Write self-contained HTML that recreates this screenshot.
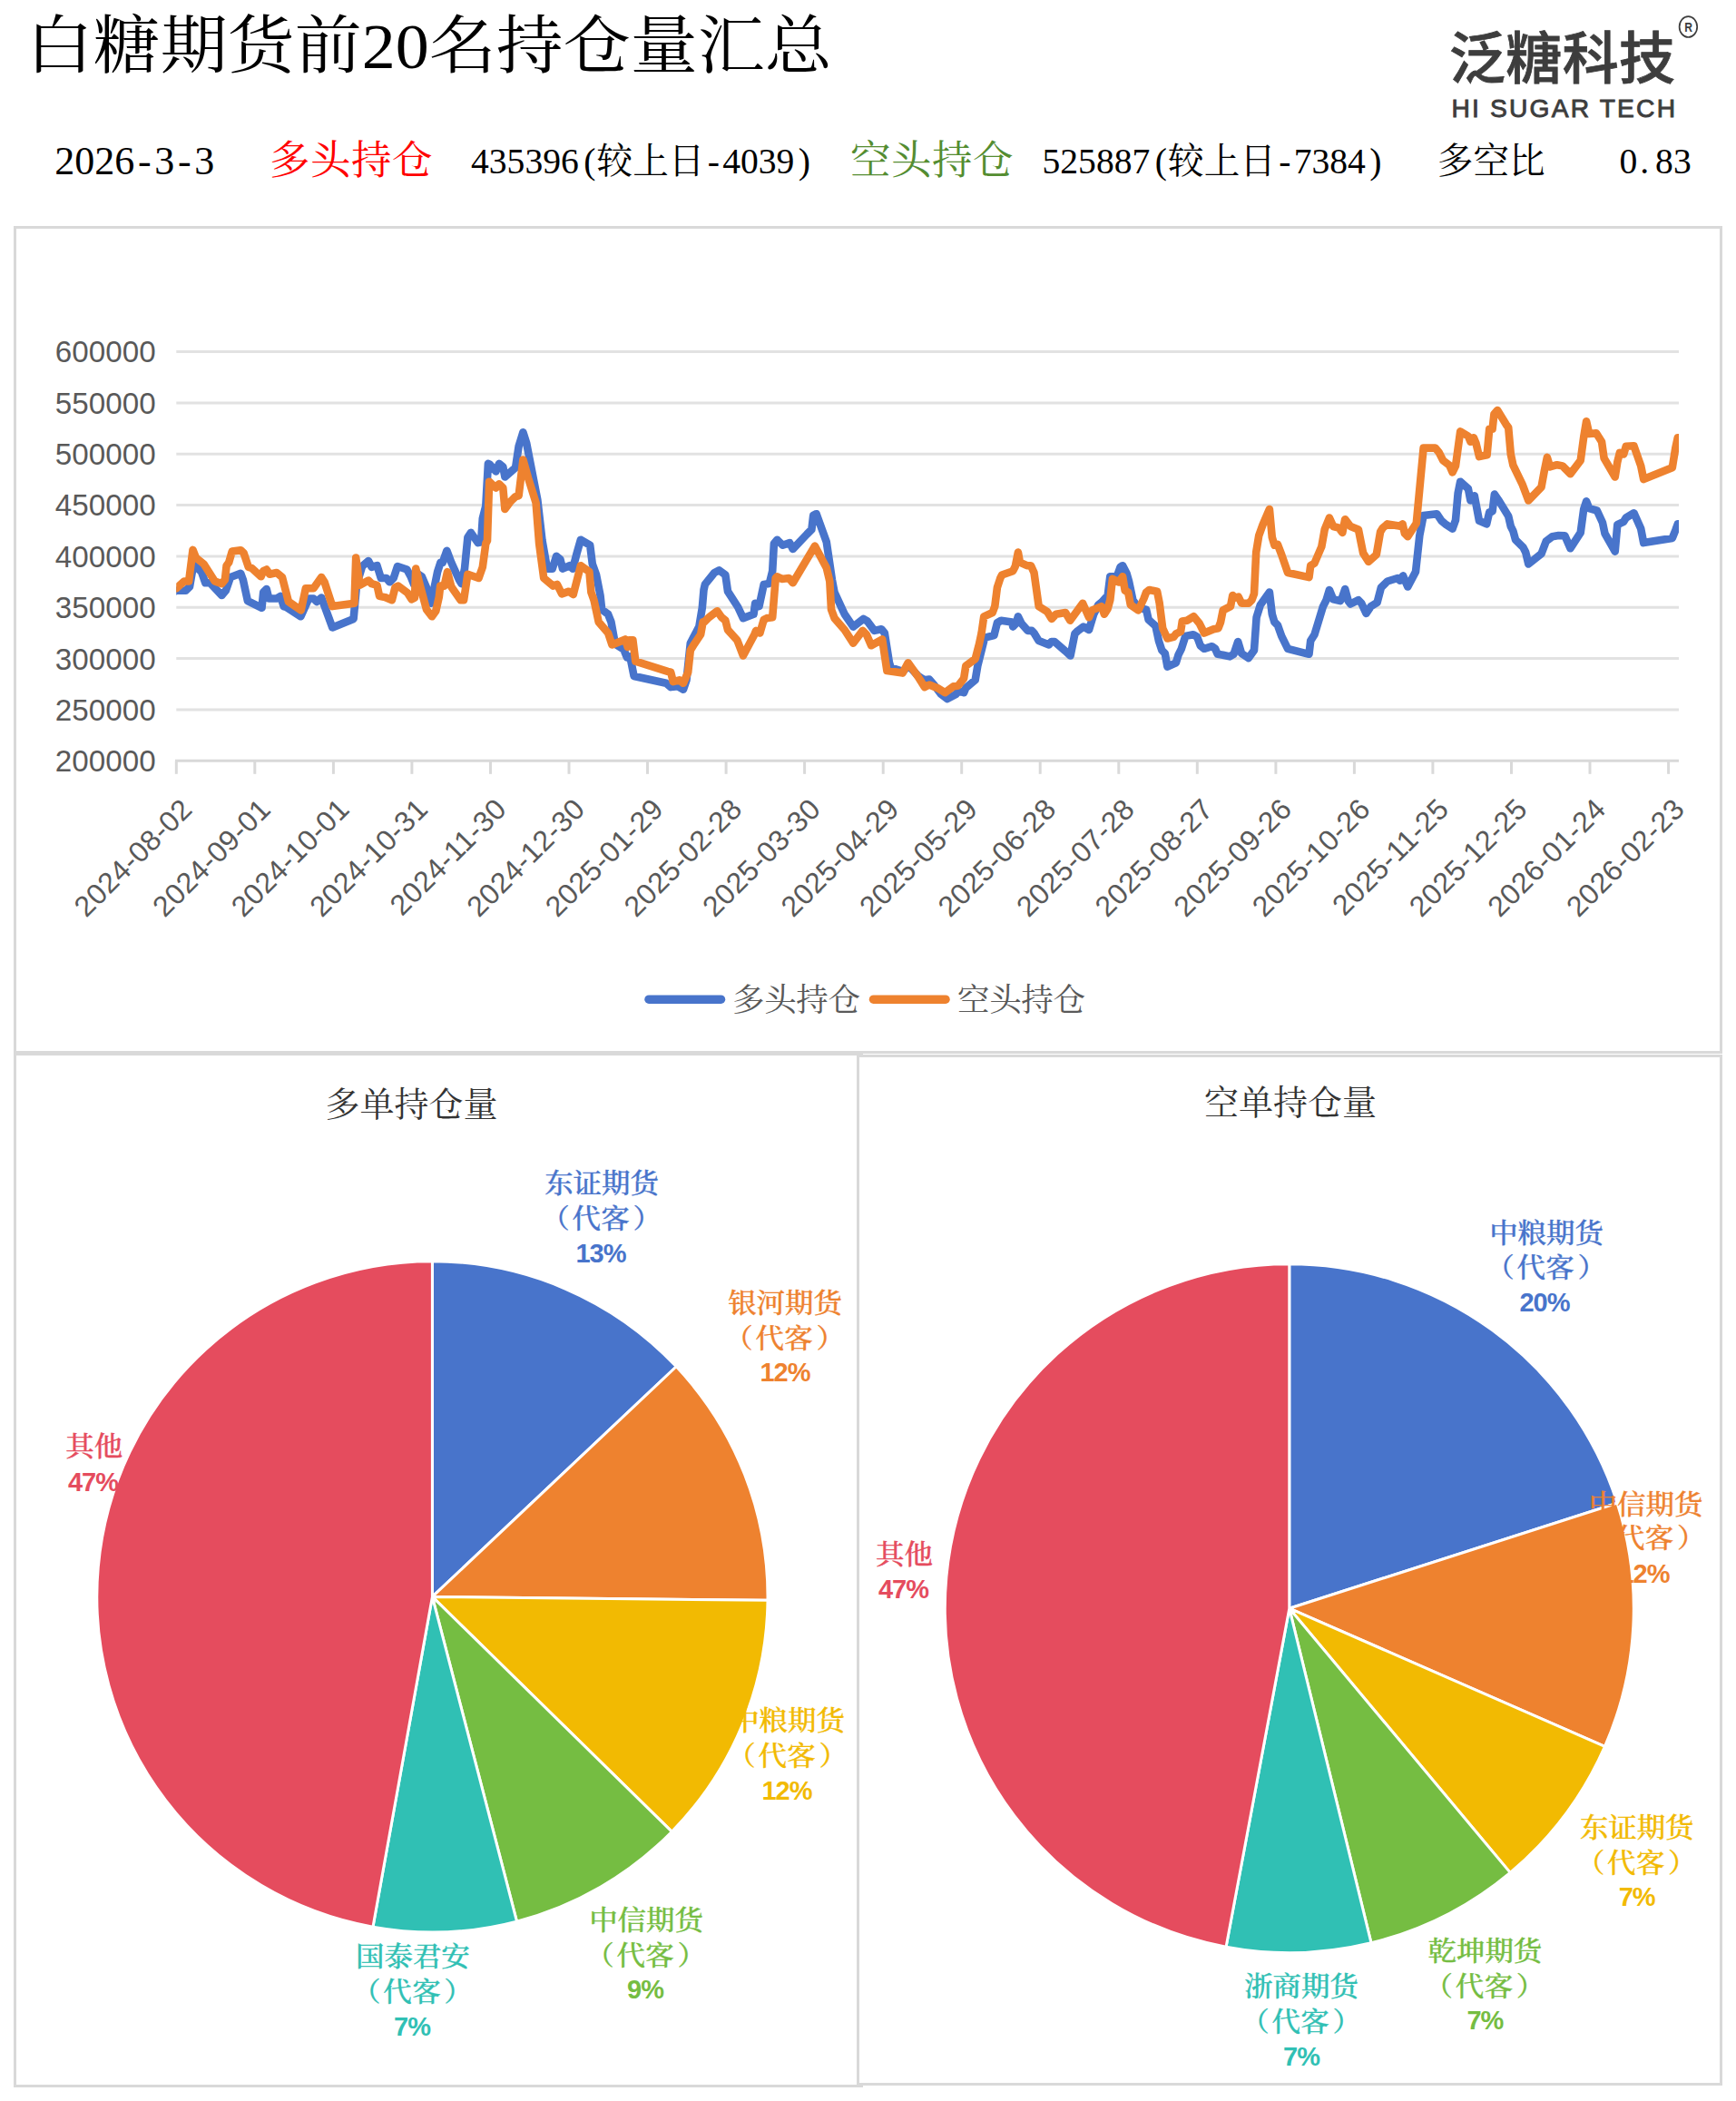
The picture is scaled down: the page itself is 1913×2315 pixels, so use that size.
<!DOCTYPE html>
<html lang="zh-CN"><head><meta charset="utf-8"><title>白糖期货前20名持仓量汇总</title>
<style>
html,body{margin:0;padding:0;background:#fff;}
body{width:1913px;height:2315px;overflow:hidden;}
svg{display:block;}
.ser{font-family:"Liberation Serif","Noto Serif CJK SC",serif;}
.san{font-family:"Liberation Sans","Noto Sans CJK SC",sans-serif;}
.ax{font-family:"Liberation Sans","Noto Sans CJK SC",sans-serif;font-size:32px;letter-spacing:0.4px;fill:#595959;}
.pl{font-family:"Liberation Serif","Noto Serif CJK SC",serif;font-weight:500;font-size:31.5px;}
.pp{font-family:"Liberation Sans","Noto Sans CJK SC",sans-serif;font-weight:700;font-size:29px;letter-spacing:-1px;text-anchor:middle;}
.pt{font-family:"Liberation Serif","Noto Serif CJK SC",serif;font-size:38px;fill:#333;text-anchor:middle;}
</style></head><body>
<svg width="1913" height="2315" viewBox="0 0 1913 2315">
<rect width="1913" height="2315" fill="#fff"/>

<text class="ser" x="37" y="76" font-size="73" font-weight="400" fill="#000" textLength="876" lengthAdjust="spacing" transform="translate(-8.86,2.03) scale(1.0137,0.962)">白糖期货前20名持仓量汇总</text>
<text class="ser" x="60.3 82.3 104.3 126.3 152.0 170.3 196.0 214.3" y="192" font-size="44" fill="#000">2026-3-3</text>
<text class="ser" x="297.0 342.0 387.0 432.0" y="192" font-size="44.5" fill="#ff0000">多头持仓</text>
<text class="ser" x="519.0 538.8 558.6 578.4 598.2 618.0 643.3 657.6 697.2 736.8 779.7 796.2 816.0 835.8 855.6 879.7" y="191" font-size="39.6" fill="#000">435396(较上日-4039)</text>
<text class="ser" x="937.1 982.1 1027.1 1072.1" y="192" font-size="44.5" fill="#548d31">空头持仓</text>
<text class="ser" x="1148.5 1168.3 1188.1 1207.9 1227.7 1247.5 1272.8 1287.1 1326.7 1366.3 1409.2 1425.7 1445.5 1465.3 1485.1 1509.2" y="191" font-size="39.6" fill="#000">525887(较上日-7384)</text>
<text class="ser" x="1583.8 1623.4 1663.0" y="191" font-size="39.6" fill="#000">多空比</text>
<text class="ser" x="1784.5 1807.3 1824.1 1843.9" y="191" font-size="39.6" fill="#000">0.83</text>
<text x="1597" y="87" font-family='"Noto Sans CJK SC","Liberation Sans",sans-serif' font-weight="500" font-size="62" fill="#3d3d3d" stroke="#3d3d3d" stroke-width="0.8" textLength="249" lengthAdjust="spacing">泛糖科技</text>
<text class="san" x="1599.5" y="128.6" font-weight="400" font-size="28.2" fill="#3d3d3d" stroke="#3d3d3d" stroke-width="0.9" textLength="246.5" lengthAdjust="spacing">HI SUGAR TECH</text>
<ellipse cx="1860.4" cy="29.6" rx="9.8" ry="11.4" fill="none" stroke="#3d3d3d" stroke-width="1.7"/>
<text class="san" x="0" y="0" font-weight="700" font-size="15.5" fill="#3d3d3d" text-anchor="middle" transform="translate(1860.6,35.2) scale(0.78,1)">R</text>
<rect x="16.5" y="250.5" width="1880.0" height="909.0" fill="#fff" stroke="#d9d9d9" stroke-width="3"/>
<rect x="16.5" y="1161.5" width="933.0" height="1137.0" fill="#fff" stroke="#d9d9d9" stroke-width="3"/>
<rect x="945.5" y="1163.5" width="951.0" height="1133.0" fill="#fff" stroke="#d9d9d9" stroke-width="3"/>
<line x1="194.3" y1="387.5" x2="1850" y2="387.5" stroke="#e2e2e2" stroke-width="3"/>
<text class="ax" x="171.6" y="399.4" text-anchor="end" style="font-size:33.2px;letter-spacing:0">600000</text>
<line x1="194.3" y1="443.9" x2="1850" y2="443.9" stroke="#e2e2e2" stroke-width="3"/>
<text class="ax" x="171.6" y="455.8" text-anchor="end" style="font-size:33.2px;letter-spacing:0">550000</text>
<line x1="194.3" y1="500.2" x2="1850" y2="500.2" stroke="#e2e2e2" stroke-width="3"/>
<text class="ax" x="171.6" y="512.1" text-anchor="end" style="font-size:33.2px;letter-spacing:0">500000</text>
<line x1="194.3" y1="556.5" x2="1850" y2="556.5" stroke="#e2e2e2" stroke-width="3"/>
<text class="ax" x="171.6" y="568.4" text-anchor="end" style="font-size:33.2px;letter-spacing:0">450000</text>
<line x1="194.3" y1="612.9" x2="1850" y2="612.9" stroke="#e2e2e2" stroke-width="3"/>
<text class="ax" x="171.6" y="624.8" text-anchor="end" style="font-size:33.2px;letter-spacing:0">400000</text>
<line x1="194.3" y1="669.2" x2="1850" y2="669.2" stroke="#e2e2e2" stroke-width="3"/>
<text class="ax" x="171.6" y="681.1" text-anchor="end" style="font-size:33.2px;letter-spacing:0">350000</text>
<line x1="194.3" y1="725.6" x2="1850" y2="725.6" stroke="#e2e2e2" stroke-width="3"/>
<text class="ax" x="171.6" y="737.5" text-anchor="end" style="font-size:33.2px;letter-spacing:0">300000</text>
<line x1="194.3" y1="782.0" x2="1850" y2="782.0" stroke="#e2e2e2" stroke-width="3"/>
<text class="ax" x="171.6" y="793.9" text-anchor="end" style="font-size:33.2px;letter-spacing:0">250000</text>
<text class="ax" x="171.6" y="850.2" text-anchor="end" style="font-size:33.2px;letter-spacing:0">200000</text>
<line x1="193.0" y1="838.3" x2="1850" y2="838.3" stroke="#d9d9d9" stroke-width="3"/>
<line x1="194.3" y1="838.3" x2="194.3" y2="852.8" stroke="#d9d9d9" stroke-width="3"/>
<text class="ax" x="213.7" y="893.5" text-anchor="end" transform="rotate(-45 213.7 893.5)">2024-08-02</text>
<line x1="280.8" y1="838.3" x2="280.8" y2="852.8" stroke="#d9d9d9" stroke-width="3"/>
<text class="ax" x="300.2" y="893.5" text-anchor="end" transform="rotate(-45 300.2 893.5)">2024-09-01</text>
<line x1="367.4" y1="838.3" x2="367.4" y2="852.8" stroke="#d9d9d9" stroke-width="3"/>
<text class="ax" x="386.8" y="893.5" text-anchor="end" transform="rotate(-45 386.8 893.5)">2024-10-01</text>
<line x1="453.9" y1="838.3" x2="453.9" y2="852.8" stroke="#d9d9d9" stroke-width="3"/>
<text class="ax" x="473.3" y="893.5" text-anchor="end" transform="rotate(-45 473.3 893.5)">2024-10-31</text>
<line x1="540.5" y1="838.3" x2="540.5" y2="852.8" stroke="#d9d9d9" stroke-width="3"/>
<text class="ax" x="559.9" y="893.5" text-anchor="end" transform="rotate(-45 559.9 893.5)">2024-11-30</text>
<line x1="627.0" y1="838.3" x2="627.0" y2="852.8" stroke="#d9d9d9" stroke-width="3"/>
<text class="ax" x="646.4" y="893.5" text-anchor="end" transform="rotate(-45 646.4 893.5)">2024-12-30</text>
<line x1="713.5" y1="838.3" x2="713.5" y2="852.8" stroke="#d9d9d9" stroke-width="3"/>
<text class="ax" x="732.9" y="893.5" text-anchor="end" transform="rotate(-45 732.9 893.5)">2025-01-29</text>
<line x1="800.1" y1="838.3" x2="800.1" y2="852.8" stroke="#d9d9d9" stroke-width="3"/>
<text class="ax" x="819.5" y="893.5" text-anchor="end" transform="rotate(-45 819.5 893.5)">2025-02-28</text>
<line x1="886.6" y1="838.3" x2="886.6" y2="852.8" stroke="#d9d9d9" stroke-width="3"/>
<text class="ax" x="906.0" y="893.5" text-anchor="end" transform="rotate(-45 906.0 893.5)">2025-03-30</text>
<line x1="973.2" y1="838.3" x2="973.2" y2="852.8" stroke="#d9d9d9" stroke-width="3"/>
<text class="ax" x="992.6" y="893.5" text-anchor="end" transform="rotate(-45 992.6 893.5)">2025-04-29</text>
<line x1="1059.7" y1="838.3" x2="1059.7" y2="852.8" stroke="#d9d9d9" stroke-width="3"/>
<text class="ax" x="1079.1" y="893.5" text-anchor="end" transform="rotate(-45 1079.1 893.5)">2025-05-29</text>
<line x1="1146.2" y1="838.3" x2="1146.2" y2="852.8" stroke="#d9d9d9" stroke-width="3"/>
<text class="ax" x="1165.6" y="893.5" text-anchor="end" transform="rotate(-45 1165.6 893.5)">2025-06-28</text>
<line x1="1232.8" y1="838.3" x2="1232.8" y2="852.8" stroke="#d9d9d9" stroke-width="3"/>
<text class="ax" x="1252.2" y="893.5" text-anchor="end" transform="rotate(-45 1252.2 893.5)">2025-07-28</text>
<line x1="1319.3" y1="838.3" x2="1319.3" y2="852.8" stroke="#d9d9d9" stroke-width="3"/>
<text class="ax" x="1338.7" y="893.5" text-anchor="end" transform="rotate(-45 1338.7 893.5)">2025-08-27</text>
<line x1="1405.9" y1="838.3" x2="1405.9" y2="852.8" stroke="#d9d9d9" stroke-width="3"/>
<text class="ax" x="1425.3" y="893.5" text-anchor="end" transform="rotate(-45 1425.3 893.5)">2025-09-26</text>
<line x1="1492.4" y1="838.3" x2="1492.4" y2="852.8" stroke="#d9d9d9" stroke-width="3"/>
<text class="ax" x="1511.8" y="893.5" text-anchor="end" transform="rotate(-45 1511.8 893.5)">2025-10-26</text>
<line x1="1578.9" y1="838.3" x2="1578.9" y2="852.8" stroke="#d9d9d9" stroke-width="3"/>
<text class="ax" x="1598.3" y="893.5" text-anchor="end" transform="rotate(-45 1598.3 893.5)">2025-11-25</text>
<line x1="1665.5" y1="838.3" x2="1665.5" y2="852.8" stroke="#d9d9d9" stroke-width="3"/>
<text class="ax" x="1684.9" y="893.5" text-anchor="end" transform="rotate(-45 1684.9 893.5)">2025-12-25</text>
<line x1="1752.0" y1="838.3" x2="1752.0" y2="852.8" stroke="#d9d9d9" stroke-width="3"/>
<text class="ax" x="1771.4" y="893.5" text-anchor="end" transform="rotate(-45 1771.4 893.5)">2026-01-24</text>
<line x1="1838.6" y1="838.3" x2="1838.6" y2="852.8" stroke="#d9d9d9" stroke-width="3"/>
<text class="ax" x="1858.0" y="893.5" text-anchor="end" transform="rotate(-45 1858.0 893.5)">2026-02-23</text>
<clipPath id="plot"><rect x="194.2" y="380" width="1655.8" height="470"/></clipPath>
<polyline clip-path="url(#plot)" points="190,652.8 194.3,650.8 204.7,650.8 209.0,646.5 213.3,621.5 222.0,630.1 226.3,642.2 231.5,642.2 244.4,656.0 248.8,650.8 253.9,636.1 265.2,631.8 267.8,638.7 272.9,662.1 288.5,669.8 290.2,652.6 293.7,649.1 296.3,659.5 304.9,659.5 309.2,656.9 312.7,668.1 315.3,669.0 331.4,679.3 340.3,659.5 345.5,659.5 349.0,662.9 354.2,658.6 366.3,691.4 389.6,681.9 393.1,643.9 399.1,624.0 406.0,618.0 409.5,624.9 415.5,623.2 419.8,637.0 425.9,637.0 429.3,641.3 433.7,637.0 438.0,624.0 448.4,627.5 452.7,635.3 456.1,643.9 459.6,631.8 464.8,635.3 470.0,647.4 475.1,664.7 482.1,630.1 485.5,619.7 487.8,619.7 492.4,606.8 497.3,619.7 505.9,638.7 508.5,643.1 512.0,626.6 515.4,592.1 518.9,586.9 526.7,598.1 530.1,597.3 531.8,571.3 535.3,557.5 537.9,510.9 539.6,511.7 546.5,519.5 550.0,510.9 554.3,514.3 556.4,525.5 568.1,515.2 571.6,491.8 576.4,476.3 580.2,488.4 592.3,550.6 597.5,595.5 603.0,626.6 608.7,626.6 613.1,612.8 617.4,616.3 620.0,626.6 627.8,623.2 631.2,626.6 635.5,610.2 639.9,594.7 650.2,600.7 652.8,621.5 657.1,633.5 661.5,656.0 663.2,671.6 670.1,676.8 673.5,685.4 677.9,709.6 687.4,715.6 690.8,724.3 694.3,723.4 698.6,745.0 734.0,752.8 739.2,757.1 747.0,756.2 753.0,759.7 756.5,749.3 760.8,708.7 770.3,690.6 773.8,669.8 775.5,650.0 776.9,643.9 787.3,631.0 792.5,628.4 799.4,633.5 802.0,651.7 813.2,669.0 818.9,681.1 830.5,676.8 832.2,664.7 836.5,668.1 841.7,643.9 847.8,643.1 851.2,629.2 852.9,599.0 856.4,594.7 862.5,600.7 870.2,598.1 873.7,605.0 889.2,588.6 894.4,583.4 896.2,567.9 899.6,566.2 910.8,597.3 916.9,638.7 919.5,652.6 930.7,676.8 940.2,690.6 951.5,681.9 955.8,684.5 963.5,694.9 971.3,693.2 974.8,697.5 980.0,730.3 981.7,735.5 994.7,739.8 1001.6,733.8 1011.9,745.0 1018.8,749.3 1024.0,748.5 1029.2,754.5 1037.0,764.9 1043.9,770.1 1053.4,764.9 1056.0,761.4 1062.1,763.2 1064.3,758.0 1074.7,749.3 1077.3,733.8 1082.5,713.0 1085.1,702.7 1095.4,700.1 1098.9,686.3 1103.2,683.7 1115.3,685.4 1116.2,690.6 1119.6,687.1 1121.9,679.3 1125.7,687.1 1132.6,694.9 1136.9,694.9 1139.5,697.5 1144.7,706.1 1155.9,710.4 1158.5,707.0 1162.0,707.0 1174.1,717.4 1179.6,722.5 1184.4,698.4 1187.9,694.9 1193.9,690.6 1200.0,694.0 1205.2,676.8 1210.3,666.4 1213.8,663.8 1220.7,656.0 1223.3,635.3 1231.1,634.4 1234.5,624.9 1237.1,623.2 1241.5,631.8 1244.0,640.5 1248.4,661.2 1254.4,669.8 1263.1,671.6 1265.6,682.8 1273.4,689.7 1276.9,706.1 1280.3,716.5 1283.8,720.0 1286.4,734.6 1295.9,730.3 1298.5,721.7 1301.9,714.8 1306.3,700.9 1314.9,699.2 1319.2,701.8 1322.7,711.3 1327.0,714.8 1335.6,712.2 1339.1,714.8 1341.7,720.8 1347.7,721.7 1355.2,723.4 1359.5,720.8 1364.2,707.0 1368.1,720.0 1375.9,725.1 1382.0,716.5 1384.6,680.2 1388.9,666.4 1398.9,652.6 1401.8,676.8 1404.4,685.4 1407.9,688.8 1412.2,700.9 1419.1,714.8 1442.5,720.8 1444.2,706.1 1448.5,699.2 1458.0,668.1 1461.5,661.2 1464.9,650.0 1469.2,660.3 1477.0,662.1 1479.3,657.7 1482.2,649.1 1485.7,662.1 1488.2,665.5 1496.9,661.2 1500.3,664.7 1505.5,675.9 1510.7,668.1 1517.6,663.8 1521.9,647.4 1528.9,640.5 1540.1,637.0 1542.7,639.6 1546.1,634.4 1548.7,640.5 1551.3,646.5 1560.0,630.1 1564.3,590.3 1568.6,567.9 1583.3,566.2 1588.5,573.9 1593.7,578.2 1600.6,582.6 1604.0,573.1 1606.6,543.7 1609.2,530.7 1617.9,538.5 1620.4,551.5 1624.8,546.3 1630.0,573.9 1638.2,577.4 1641.2,564.4 1644.6,563.6 1646.9,544.6 1651.0,550.6 1662.2,568.7 1664.8,580.0 1667.4,585.2 1670.0,594.7 1678.6,603.3 1681.2,608.5 1684.3,621.5 1698.5,610.2 1703.7,596.4 1710.6,591.2 1717.5,590.0 1724.4,590.3 1730.5,604.2 1741.7,586.9 1745.2,561.0 1748.1,552.3 1751.2,560.1 1759.9,562.7 1765.9,575.7 1768.5,587.8 1779.7,607.6 1782.3,578.2 1789.2,574.8 1791.8,570.5 1800.5,565.3 1808.2,582.6 1811.2,598.1 1842.8,592.9 1846.3,584.3 1848.8,577.4 1853,577.4" fill="none" stroke="#4874cb" stroke-width="8.6" stroke-linejoin="round" stroke-linecap="round"/>
<polyline clip-path="url(#plot)" points="190,650.2 194.3,648.2 203.0,640.5 208.1,640.5 212.5,605.9 215.9,614.5 224.6,621.5 236.7,640.5 244.4,643.1 247.9,638.7 249.6,623.2 252.2,619.7 255.7,607.6 265.2,606.2 268.6,609.4 273.8,624.9 277.3,625.8 287.6,635.3 290.2,629.2 293.7,627.5 297.1,632.7 304.9,631.0 311.0,636.1 317.9,662.9 331.7,672.4 336.9,648.2 345.5,648.2 354.2,636.1 357.6,641.3 366.3,668.1 390.5,664.7 392.2,614.5 396.5,644.8 406.0,639.6 409.5,643.1 415.5,644.8 418.1,656.9 424.2,658.1 431.9,661.2 435.4,647.4 438.8,645.6 449.2,653.4 453.5,660.3 457.0,658.6 458.2,626.6 463.0,645.6 470.0,671.6 476.0,679.3 480.3,673.3 483.8,657.7 485.2,645.6 489.5,645.6 493.0,630.1 497.3,646.5 507.6,661.2 511.1,661.2 515.4,632.7 527.5,637.0 531.8,624.9 535.3,599.0 537.0,595.5 539.1,530.7 546.5,537.6 550.0,533.3 554.3,537.6 556.4,561.0 562.9,552.3 568.1,547.1 571.6,546.3 576.4,506.5 582.0,526.4 590.6,554.1 594.1,599.0 599.2,637.0 609.6,645.6 613.9,643.9 619.1,654.3 626.9,651.7 631.7,655.1 639.9,623.2 649.4,630.1 651.4,652.6 654.5,661.2 659.7,685.4 670.1,697.5 674.4,710.4 689.1,704.4 691.7,713.0 693.4,705.3 697.4,705.3 700.3,728.6 735.8,739.8 739.2,740.7 741.8,751.1 748.7,749.3 753.0,752.8 758.2,740.7 760.8,716.5 765.1,709.6 772.1,699.2 774.6,685.4 776.0,685.4 781.2,680.2 790.4,673.3 795.1,680.2 799.4,683.7 802.0,694.0 812.3,705.3 818.9,722.5 831.3,699.2 833.1,694.9 837.4,697.5 841.7,682.8 845.2,681.1 851.2,680.2 854.7,637.0 856.4,635.3 861.6,637.9 869.4,637.0 873.7,642.2 897.9,601.6 904.8,614.5 910.8,625.8 914.3,640.5 916.0,671.6 919.5,681.1 930.7,694.0 940.2,708.7 950.6,694.9 954.9,699.2 960.1,711.3 972.2,704.4 977.4,739.0 994.7,741.6 1000.7,730.3 1011.9,745.9 1018.8,757.1 1024.0,754.5 1034.4,758.8 1041.3,763.2 1050.8,756.2 1056.0,755.4 1062.1,747.6 1064.3,733.8 1074.7,726.0 1079.0,709.6 1081.6,697.5 1084.2,679.3 1093.7,675.0 1096.3,668.1 1098.9,647.4 1102.3,637.0 1104.1,633.5 1116.2,629.2 1118.8,624.0 1121.9,608.5 1123.9,619.7 1131.7,623.2 1136.0,623.2 1139.5,631.0 1144.7,668.1 1154.2,674.2 1158.8,681.9 1163.7,676.8 1174.1,675.0 1179.2,683.7 1193.1,664.7 1200.0,680.2 1203.4,672.4 1213.8,668.1 1216.9,676.8 1220.7,670.7 1223.3,661.2 1225.9,637.9 1232.8,641.3 1237.1,635.3 1239.7,650.8 1243.2,652.6 1245.8,666.4 1254.4,672.4 1260.5,659.5 1263.1,652.6 1266.5,650.0 1275.1,651.7 1277.7,664.7 1281.2,692.3 1286.4,703.5 1293.3,701.8 1295.9,698.4 1301.1,695.8 1302.8,684.5 1308.0,683.7 1315.4,679.3 1321.8,687.1 1327.0,697.5 1337.4,693.2 1342.5,692.3 1345.1,685.4 1347.7,672.4 1356.0,668.1 1358.3,656.0 1361.2,658.6 1364.7,657.7 1368.1,664.7 1375.9,664.7 1379.4,661.2 1382.0,654.3 1384.2,608.5 1387.2,590.3 1391.5,578.2 1398.9,561.0 1401.8,592.1 1404.4,600.7 1407.9,599.9 1412.2,611.1 1419.1,631.0 1442.5,636.1 1444.2,623.2 1448.5,620.6 1456.3,602.4 1459.7,583.4 1464.9,570.5 1469.2,580.0 1475.3,581.7 1479.3,586.9 1482.2,572.2 1488.2,580.0 1496.9,583.4 1502.1,609.4 1508.1,618.9 1516.8,611.1 1521.1,586.0 1523.7,581.7 1528.9,577.4 1541.8,579.6 1545.6,577.4 1547.9,587.8 1551.3,591.2 1560.8,576.5 1565.1,530.7 1568.6,493.6 1581.6,493.6 1585.9,498.8 1590.2,507.4 1597.1,512.6 1600.6,520.4 1604.0,513.4 1609.2,475.4 1617.9,480.6 1620.4,486.7 1623.9,482.3 1626.5,488.4 1630.0,503.1 1638.6,501.3 1641.2,472.8 1644.6,472.8 1646.4,456.4 1650.1,452.1 1659.6,467.6 1662.2,471.1 1664.8,500.5 1667.4,512.6 1677.8,534.2 1684.3,551.5 1698.5,536.8 1702.0,517.8 1704.9,503.9 1708.0,514.3 1715.8,512.2 1721.8,513.4 1730.5,522.1 1741.7,507.4 1745.2,481.5 1748.1,464.2 1751.2,478.0 1759.0,477.2 1765.0,486.7 1767.6,504.8 1779.7,525.5 1782.3,509.1 1784.9,498.8 1789.2,500.5 1791.8,491.8 1800.5,491.3 1808.2,513.4 1811.2,528.1 1842.8,515.2 1846.3,493.6 1848.8,482.3 1853,482.3" fill="none" stroke="#ee822f" stroke-width="8.6" stroke-linejoin="round" stroke-linecap="round"/>
<line x1="715" y1="1101.2" x2="794.5" y2="1101.2" stroke="#4874cb" stroke-width="9.5" stroke-linecap="round"/>
<text class="ser" x="807" y="1114" font-size="35.5" fill="#595959" textLength="141" lengthAdjust="spacing">多头持仓</text>
<line x1="962.5" y1="1101.2" x2="1042" y2="1101.2" stroke="#ee822f" stroke-width="9.5" stroke-linecap="round"/>
<text class="ser" x="1055" y="1114" font-size="35.5" fill="#595959" textLength="141" lengthAdjust="spacing">空头持仓</text>
<path d="M476.4,1759.4 L476.40,1389.80 A369.6,369.6 0 0 1 745.25,1505.78 Z" fill="#4874cb" stroke="#fff" stroke-width="3" stroke-linejoin="round"/>
<path d="M476.4,1759.4 L745.25,1505.78 A369.6,369.6 0 0 1 845.98,1763.33 Z" fill="#ee822f" stroke="#fff" stroke-width="3" stroke-linejoin="round"/>
<path d="M476.4,1759.4 L845.98,1763.33 A369.6,369.6 0 0 1 740.29,2018.18 Z" fill="#f2ba02" stroke="#fff" stroke-width="3" stroke-linejoin="round"/>
<path d="M476.4,1759.4 L740.29,2018.18 A369.6,369.6 0 0 1 569.50,2117.08 Z" fill="#75bd42" stroke="#fff" stroke-width="3" stroke-linejoin="round"/>
<path d="M476.4,1759.4 L569.50,2117.08 A369.6,369.6 0 0 1 410.95,2123.16 Z" fill="#30c0b4" stroke="#fff" stroke-width="3" stroke-linejoin="round"/>
<path d="M476.4,1759.4 L410.95,2123.16 A369.6,369.6 0 0 1 476.40,1389.80 Z" fill="#e54c5e" stroke="#fff" stroke-width="3" stroke-linejoin="round"/>
<text class="pt" x="453.5" y="1230">多单持仓量</text>
<text class="pl" x="600.2 631.6 663.0 694.4" y="1314.2" fill="#4874cb" stroke="#4874cb" stroke-width="0.35" transform="matrix(1 0 0 0.935 0 85.42)">东证期货</text>
<text class="pl" x="596.2 630.4 662.2 697.4" y="1353.2" fill="#4874cb" stroke="#4874cb" stroke-width="0.35" transform="matrix(1 0 0 0.935 0 87.96)">（代客）</text>
<text class="pp" x="662" y="1390.6" fill="#4874cb">13%</text>
<text class="pl" x="802.2 833.6 865.0 896.4" y="1446.2" fill="#ee822f" stroke="#ee822f" stroke-width="0.35" transform="matrix(1 0 0 0.935 0 94.00)">银河期货</text>
<text class="pl" x="798.2 832.4 864.2 899.4" y="1484.8" fill="#ee822f" stroke="#ee822f" stroke-width="0.35" transform="matrix(1 0 0 0.935 0 96.51)">（代客）</text>
<text class="pp" x="865" y="1521.9" fill="#ee822f">12%</text>
<text class="pl" x="805.2 836.6 868.0 899.4" y="1905.9" fill="#f2ba02" stroke="#f2ba02" stroke-width="0.35" transform="matrix(1 0 0 0.935 0 123.88)">中粮期货</text>
<text class="pl" x="801.2 835.4 867.2 902.4" y="1944.9" fill="#f2ba02" stroke="#f2ba02" stroke-width="0.35" transform="matrix(1 0 0 0.935 0 126.42)">（代客）</text>
<text class="pp" x="867" y="1982.8" fill="#f2ba02">12%</text>
<text class="pl" x="649.2 680.6 712.0 743.4" y="2126.0" fill="#75bd42" stroke="#75bd42" stroke-width="0.35" transform="matrix(1 0 0 0.935 0 138.19)">中信期货</text>
<text class="pl" x="645.2 679.4 711.2 746.4" y="2164.7" fill="#75bd42" stroke="#75bd42" stroke-width="0.35" transform="matrix(1 0 0 0.935 0 140.71)">（代客）</text>
<text class="pp" x="711" y="2201.9" fill="#75bd42">9%</text>
<text class="pl" x="392.1 423.5 454.9 486.3" y="2165.8" fill="#30c0b4" stroke="#30c0b4" stroke-width="0.35" transform="matrix(1 0 0 0.935 0 140.78)">国泰君安</text>
<text class="pl" x="388.1 422.3 454.2 489.3" y="2205.2" fill="#30c0b4" stroke="#30c0b4" stroke-width="0.35" transform="matrix(1 0 0 0.935 0 143.34)">（代客）</text>
<text class="pp" x="454" y="2243.3" fill="#30c0b4">7%</text>
<text class="pl" x="72.3 103.7" y="1603.7" fill="#e54c5e" stroke="#e54c5e" stroke-width="0.35" transform="matrix(1 0 0 0.935 0 104.24)">其他</text>
<text class="pp" x="102.5" y="1642.5" fill="#e54c5e">47%</text>
<path d="M1420.8,1772.2 L1420.80,1392.70 A379.5,379.5 0 0 1 1782.13,1656.19 Z" fill="#4874cb" stroke="#fff" stroke-width="3" stroke-linejoin="round"/>
<path d="M1420.8,1772.2 L1782.13,1656.19 A379.5,379.5 0 0 1 1768.45,1924.38 Z" fill="#ee822f" stroke="#fff" stroke-width="3" stroke-linejoin="round"/>
<path d="M1420.8,1772.2 L1768.45,1924.38 A379.5,379.5 0 0 1 1664.18,2063.38 Z" fill="#f2ba02" stroke="#fff" stroke-width="3" stroke-linejoin="round"/>
<path d="M1420.8,1772.2 L1664.18,2063.38 A379.5,379.5 0 0 1 1511.00,2140.82 Z" fill="#75bd42" stroke="#fff" stroke-width="3" stroke-linejoin="round"/>
<path d="M1420.8,1772.2 L1511.00,2140.82 A379.5,379.5 0 0 1 1351.06,2145.24 Z" fill="#30c0b4" stroke="#fff" stroke-width="3" stroke-linejoin="round"/>
<path d="M1420.8,1772.2 L1351.06,2145.24 A379.5,379.5 0 0 1 1420.80,1392.70 Z" fill="#e54c5e" stroke="#fff" stroke-width="3" stroke-linejoin="round"/>
<text class="pt" x="1422" y="1228">空单持仓量</text>
<text class="pl" x="1641.2 1672.6 1704.0 1735.4" y="1368.6" fill="#4874cb" stroke="#4874cb" stroke-width="0.35" transform="matrix(1 0 0 0.935 0 88.96)">中粮期货</text>
<text class="pl" x="1637.2 1671.4 1703.2 1738.4" y="1406.7" fill="#4874cb" stroke="#4874cb" stroke-width="0.35" transform="matrix(1 0 0 0.935 0 91.44)">（代客）</text>
<text class="pp" x="1702" y="1445.4" fill="#4874cb">20%</text>
<text class="pl" x="1750.7 1782.1 1813.5 1844.9" y="1668.2" fill="#ee822f" stroke="#ee822f" stroke-width="0.35" transform="matrix(1 0 0 0.935 0 108.43)">中信期货</text>
<text class="pl" x="1746.7 1780.9 1812.8 1847.9" y="1705.4" fill="#ee822f" stroke="#ee822f" stroke-width="0.35" transform="matrix(1 0 0 0.935 0 110.85)">（代客）</text>
<text class="pp" x="1812" y="1744.2" fill="#ee822f">12%</text>
<text class="pl" x="1740.9 1772.3 1803.7 1835.1" y="2023.9" fill="#f2ba02" stroke="#f2ba02" stroke-width="0.35" transform="matrix(1 0 0 0.935 0 131.55)">东证期货</text>
<text class="pl" x="1736.9 1771.1 1803.0 1838.1" y="2062.6" fill="#f2ba02" stroke="#f2ba02" stroke-width="0.35" transform="matrix(1 0 0 0.935 0 134.07)">（代客）</text>
<text class="pp" x="1803.7" y="2100.2" fill="#f2ba02">7%</text>
<text class="pl" x="1573.6 1605.0 1636.4 1667.8" y="2159.6" fill="#75bd42" stroke="#75bd42" stroke-width="0.35" transform="matrix(1 0 0 0.935 0 140.37)">乾坤期货</text>
<text class="pl" x="1569.6 1603.8 1635.7 1670.8" y="2198.8" fill="#75bd42" stroke="#75bd42" stroke-width="0.35" transform="matrix(1 0 0 0.935 0 142.92)">（代客）</text>
<text class="pp" x="1636.4" y="2236.4" fill="#75bd42">7%</text>
<text class="pl" x="1371.2 1402.6 1434.0 1465.4" y="2198.8" fill="#30c0b4" stroke="#30c0b4" stroke-width="0.35" transform="matrix(1 0 0 0.935 0 142.92)">浙商期货</text>
<text class="pl" x="1367.2 1401.4 1433.2 1468.4" y="2238.0" fill="#30c0b4" stroke="#30c0b4" stroke-width="0.35" transform="matrix(1 0 0 0.935 0 145.47)">（代客）</text>
<text class="pp" x="1434" y="2275.6" fill="#30c0b4">7%</text>
<text class="pl" x="965.1 996.5" y="1723.2" fill="#e54c5e" stroke="#e54c5e" stroke-width="0.35" transform="matrix(1 0 0 0.935 0 112.01)">其他</text>
<text class="pp" x="995.5" y="1761.2" fill="#e54c5e">47%</text>
</svg></body></html>
